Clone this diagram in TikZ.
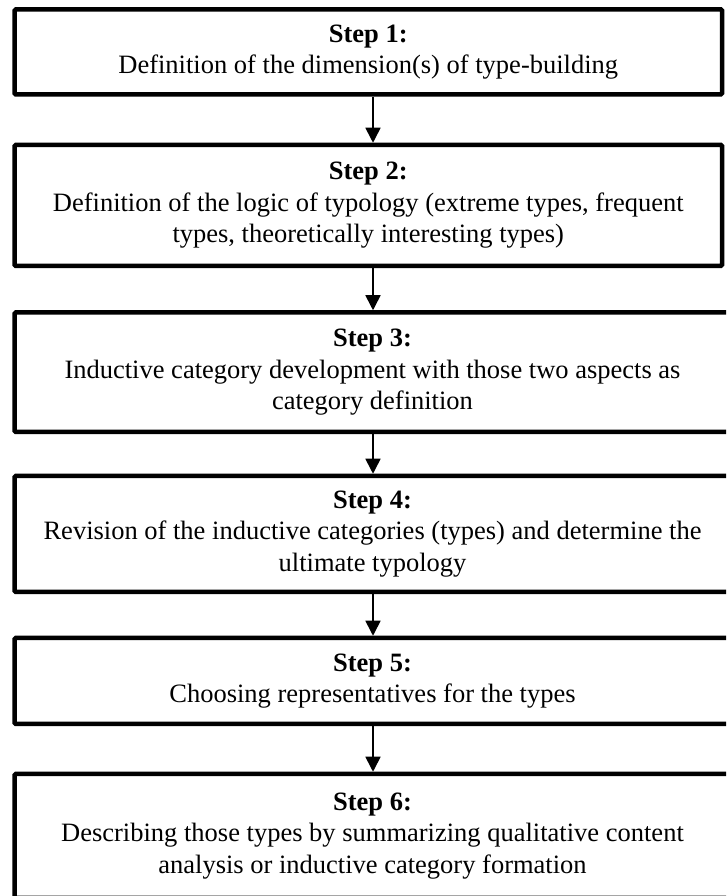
\documentclass[tikz,border=0pt]{standalone}
\usepackage{fontspec}
\setmainfont{Liberation Serif}
\usetikzlibrary{arrows.meta,calc}
\tikzset{
  stepbox/.style={draw=black, line width=4.5pt, rectangle, rounded corners=1.2pt,
    inner sep=0pt, align=center, font=\fontsize{26.5}{31.5}\selectfont,
    fill=white},
  flowarrow/.style={line width=1.6pt, -{Triangle[length=15pt,width=15pt]}},
}
\begin{document}
\begin{tikzpicture}[x=1pt,y=1pt]
  \useasboundingbox (0,0) rectangle (726,896);
  \fill[white] (0,0) rectangle (726,896);
  \begin{scope}
  \clip (0,0) rectangle (726,896);
  \node[stepbox, minimum width=707.5pt, minimum height=85pt] (s1) at (368.25,844)
    {\textbf{Step 1:}\\Definition of the dimension(s) of type-building};
  \node[stepbox, minimum width=707.5pt, minimum height=121pt] (s2) at (368.25,690.5)
    {\textbf{Step 2:}\\Definition of the logic of typology (extreme types, frequent\\types, theoretically interesting types)};
  \node[stepbox, minimum width=716pt, minimum height=119.5pt] (s3) at (372.5,523.75)
    {\textbf{Step 3:}\\Inductive category development with those two aspects as\\category definition};
  \node[stepbox, minimum width=716pt, minimum height=116pt] (s4) at (372.5,362)
    {\textbf{Step 4:}\\Revision of the inductive categories (types) and determine the\\ultimate typology};
  \node[stepbox, minimum width=716pt, minimum height=86pt] (s5) at (372.5,215)
    {\textbf{Step 5:}\\Choosing representatives for the types};
  \node[stepbox, minimum width=716pt, minimum height=124pt] (s6) at (372.5,60)
    {\textbf{Step 6:}\\Describing those types by summarizing qualitative content\\analysis or inductive category formation};
  \coordinate (ax) at (373,0);
  \draw[flowarrow] (s1.south -| ax) -- (s2.north -| ax);
  \draw[flowarrow] (s2.south -| ax) -- (s3.north -| ax);
  \draw[flowarrow] (s3.south -| ax) -- (s4.north -| ax);
  \draw[flowarrow] (s4.south -| ax) -- (s5.north -| ax);
  \draw[flowarrow] (s5.south -| ax) -- (s6.north -| ax);
  \end{scope}
\end{tikzpicture}
\end{document}
